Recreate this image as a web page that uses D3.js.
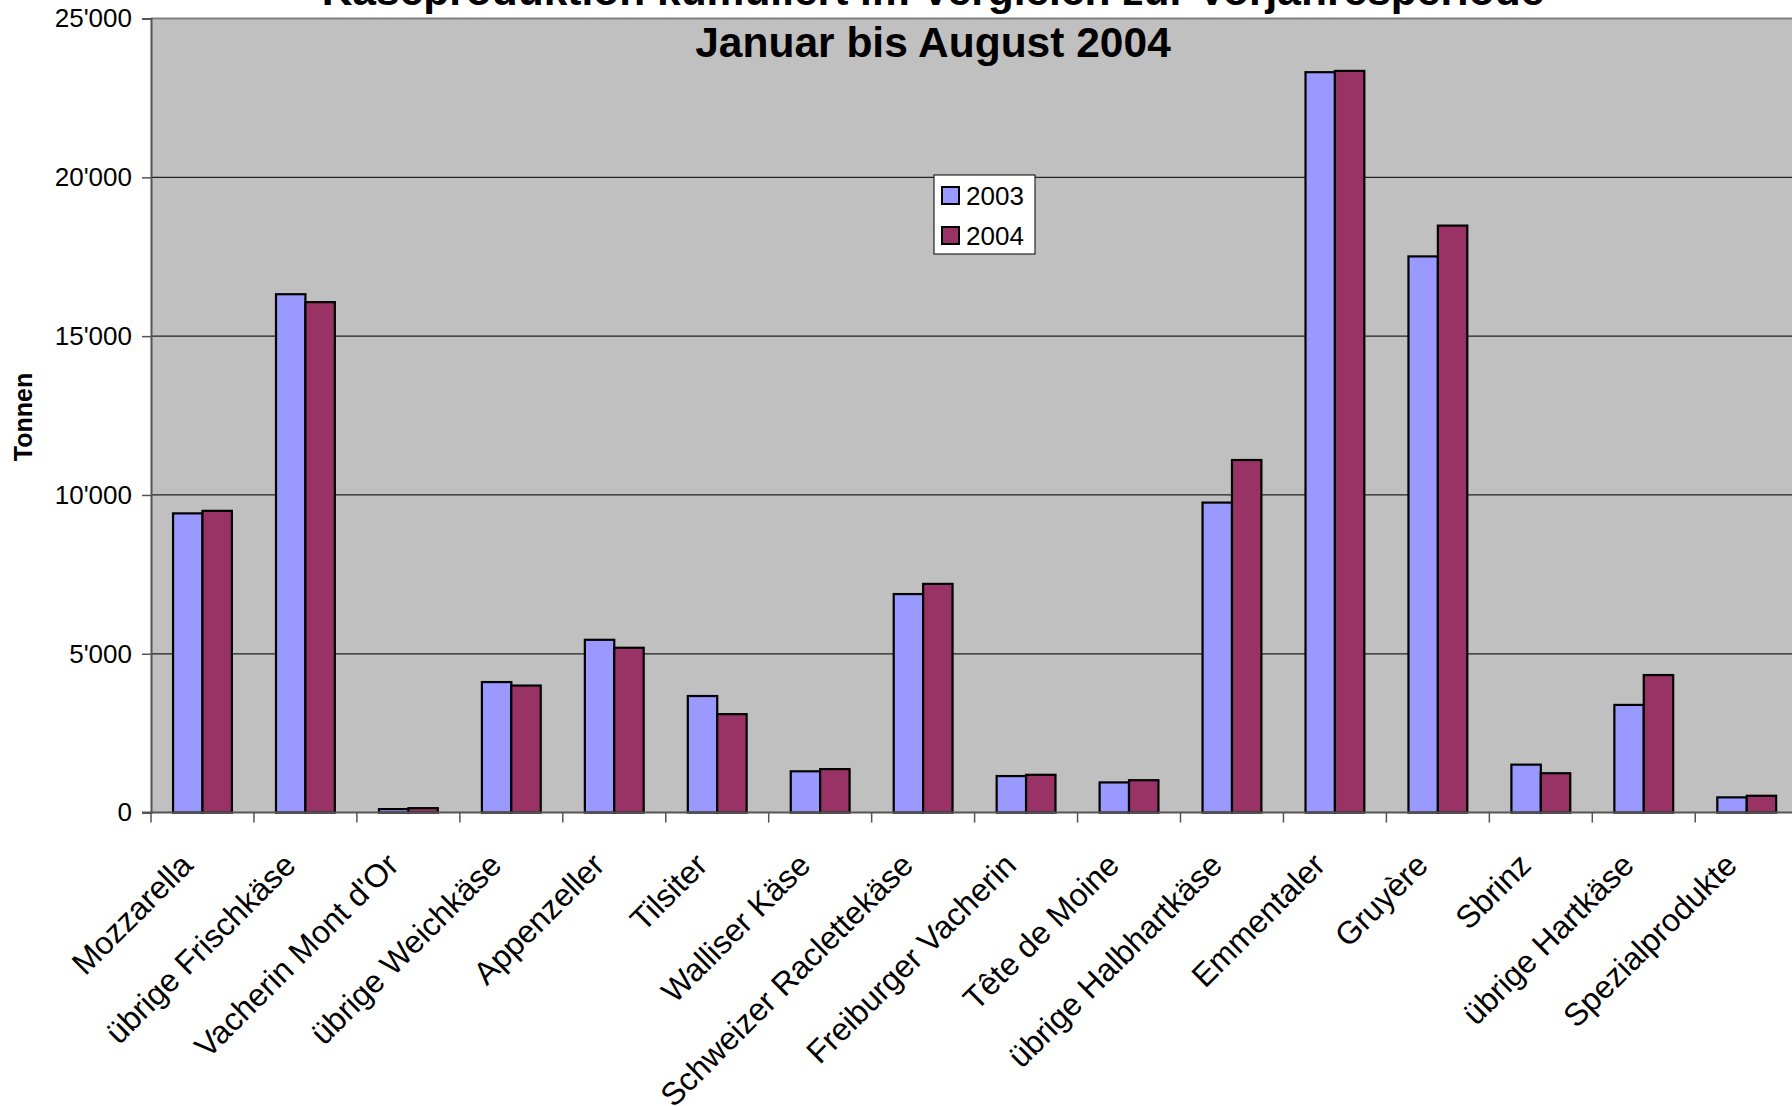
<!DOCTYPE html>
<html>
<head>
<meta charset="utf-8">
<script src="https://cdnjs.cloudflare.com/ajax/libs/d3/7.8.5/d3.min.js"></script>
<style>
  body { margin: 0; background: #fff; }
  svg { display: block; font-family: "Liberation Sans", Arial, sans-serif; }
</style>
</head>
<body>
<svg id="chart" width="1792" height="1106"></svg>
<script>
// Kaeseproduktion, Tonnen, Januar bis August
var categories = ["Mozzarella", "übrige Frischkäse", "Vacherin Mont d'Or", "übrige Weichkäse",
  "Appenzeller", "Tilsiter", "Walliser Käse", "Schweizer Raclettekäse", "Freiburger Vacherin",
  "Tête de Moine", "übrige Halbhartkäse", "Emmentaler", "Gruyère", "Sbrinz", "übrige Hartkäse",
  "Spezialprodukte"];
var series = ["2003", "2004"];
var values2003 = [9420, 16320, 110, 4110, 5440, 3670, 1300, 6880, 1150, 950, 9760, 23310, 17510, 1510, 3390, 480];
var values2004 = [9500, 16070, 140, 4000, 5190, 3100, 1370, 7200, 1190, 1020, 11100, 23350, 18480, 1240, 4330, 530];
var yTicks = [0, 5000, 10000, 15000, 20000, 25000];
var titleLines = ["Käseproduktion kumuliert im Vergleich zur Vorjahresperiode", "Januar bis August 2004"];
var colors = {"2003": "#9999ff", "2004": "#993366"};

var svg = d3.select("#chart");

// plot area (runs off the right edge like the source picture)
var plot = {left: 151, top: 18.5, right: 151 + 16 * 102.95, bottom: 812.6};

var x = d3.scaleBand().domain(categories).range([plot.left, plot.right]).paddingInner(0).paddingOuter(0);
var xs = d3.scaleBand().domain(series).range([0, x.bandwidth()]).paddingInner(0).paddingOuter(0.75);
var y = d3.scaleLinear().domain([0, 25000]).range([plot.bottom, plot.top]);

var rows = categories.map(function(c, i) {
  return {cat: c, vals: [{s: "2003", v: values2003[i]}, {s: "2004", v: values2004[i]}]};
});

svg.append("rect")
   .attr("x", plot.left).attr("y", plot.top)
   .attr("width", plot.right - plot.left).attr("height", plot.bottom - plot.top)
   .attr("fill", "#c0c0c0");

// grid
svg.append("g").selectAll("line")
   .data(yTicks.filter(function(d) { return d > 0 && d < 25000; }))
   .join("line")
   .attr("x1", plot.left).attr("x2", plot.right)
   .attr("y1", function(d) { return y(d); }).attr("y2", function(d) { return y(d); })
   .attr("stroke", "#222").attr("stroke-width", 1.2);

svg.append("line")
   .attr("x1", plot.left).attr("x2", plot.right)
   .attr("y1", plot.top).attr("y2", plot.top)
   .attr("stroke", "#808080").attr("stroke-width", 2);

// title (partly cut off at the top, as in the original)
svg.append("g").selectAll("text")
   .data(titleLines)
   .join("text")
   .attr("x", 933).attr("y", function(d, i) { return 5 + i * 52; })
   .attr("text-anchor", "middle")
   .attr("font-weight", "bold").attr("font-size", 42.5)
   .text(function(d) { return d; });

// bars
svg.append("g").selectAll("g")
   .data(rows)
   .join("g")
   .attr("transform", function(d) { return "translate(" + x(d.cat) + ",0)"; })
   .selectAll("rect")
   .data(function(d) { return d.vals; })
   .join("rect")
   .attr("x", function(d) { return xs(d.s); })
   .attr("y", function(d) { return y(d.v); })
   .attr("width", xs.bandwidth())
   .attr("height", function(d) { return y(0) - y(d.v); })
   .attr("fill", function(d) { return colors[d.s]; })
   .attr("stroke", "#000").attr("stroke-width", 2.2);

// y axis
var yAxis = d3.axisLeft(y).tickValues(yTicks).tickSize(9).tickPadding(10)
  .tickFormat(function(d) { return d3.format(",")(d).replace(/,/g, "'"); });
var gy = svg.append("g").attr("transform", "translate(" + plot.left + ",0)").call(yAxis);
gy.select(".domain").attr("stroke", "#555").attr("stroke-width", 2);
gy.selectAll(".tick line").attr("stroke", "#555").attr("stroke-width", 1.5);
gy.selectAll("text").attr("font-size", 26).attr("font-family", "Liberation Sans, Arial, sans-serif").attr("fill", "#000");

// x axis line and ticks between categories
svg.append("line")
   .attr("x1", plot.left - 9).attr("x2", plot.right)
   .attr("y1", plot.bottom).attr("y2", plot.bottom)
   .attr("stroke", "#555").attr("stroke-width", 2);
svg.append("g").selectAll("line")
   .data(categories.concat(["end"]))
   .join("line")
   .attr("x1", function(d, i) { return plot.left + i * x.step(); })
   .attr("x2", function(d, i) { return plot.left + i * x.step(); })
   .attr("y1", plot.bottom).attr("y2", plot.bottom + 10)
   .attr("stroke", "#555").attr("stroke-width", 1.5);

// category labels, rotated
svg.append("g").selectAll("text")
   .data(categories)
   .join("text")
   .attr("transform", function(d) {
     return "translate(" + (x(d) + x.bandwidth() / 2 - 24) + ",851) rotate(-45)";
   })
   .attr("dy", "0.71em")
   .attr("text-anchor", "end")
   .attr("font-size", 32)
   .text(function(d) { return d; });

// axis title
svg.append("text")
   .attr("transform", "translate(32,417) rotate(-90)")
   .attr("text-anchor", "middle")
   .attr("font-weight", "bold").attr("font-size", 25)
   .text("Tonnen");

// legend
var lg = svg.append("g").attr("transform", "translate(934,175)");
lg.append("rect").attr("width", 101).attr("height", 79)
  .attr("fill", "#fff").attr("stroke", "#000").attr("stroke-width", 1);
var li = lg.selectAll("g").data(series).join("g")
  .attr("transform", function(d, i) { return "translate(8," + (12 + i * 40) + ")"; });
li.append("rect").attr("width", 17).attr("height", 17)
  .attr("fill", function(d) { return colors[d]; })
  .attr("stroke", "#000").attr("stroke-width", 2);
li.append("text").attr("x", 24).attr("y", 18).attr("font-size", 26).text(function(d) { return d; });
</script>
</body>
</html>
